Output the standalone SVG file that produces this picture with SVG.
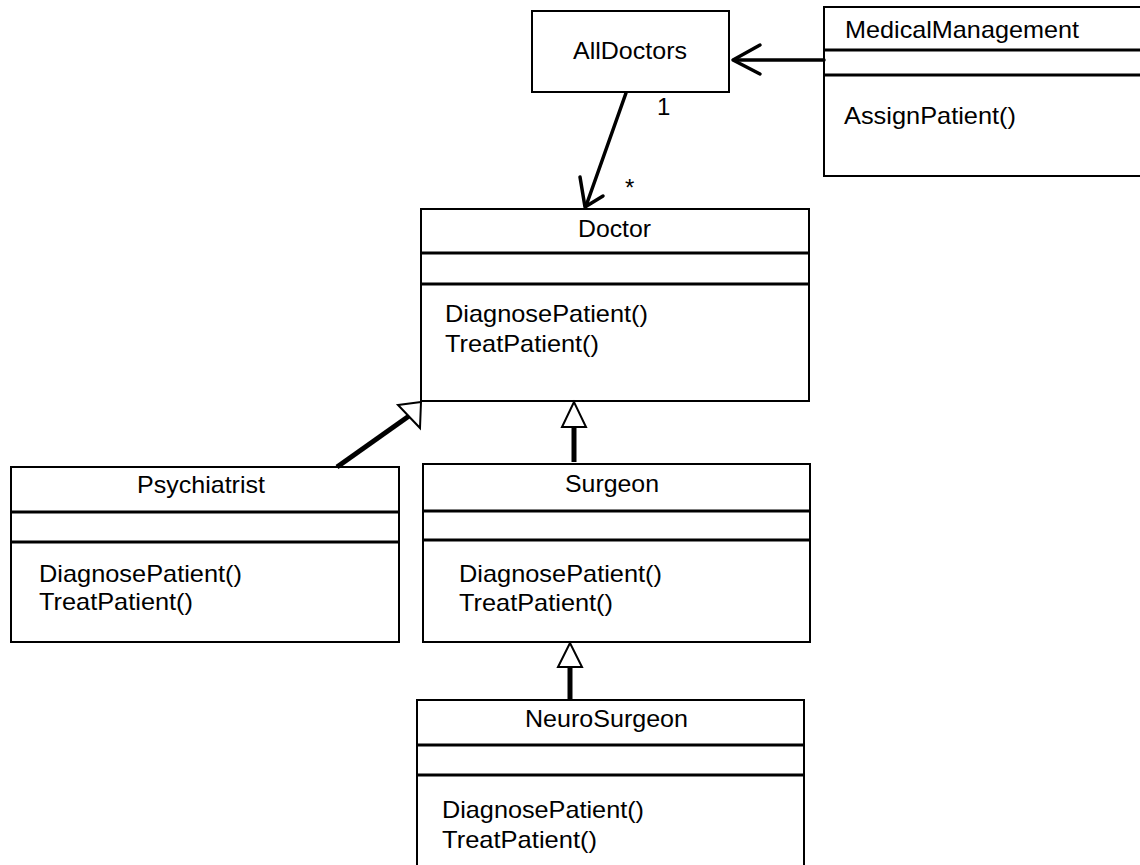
<svg xmlns="http://www.w3.org/2000/svg" width="1140" height="865" viewBox="0 0 1140 865">
<style>
.box{fill:#fff;stroke:#000;stroke-width:2}
.div{stroke:#000;stroke-width:3}
.t{font-family:"Liberation Sans",Arial,sans-serif;font-size:24px;fill:#000}
.c{stroke:#000;stroke-width:3.5;fill:none;stroke-linecap:round;stroke-linejoin:round}
.g{stroke:#000;stroke-width:5;fill:none}
.tri{fill:#fff;stroke:#000;stroke-width:2}
</style>
<rect width="1140" height="865" fill="#fff"/>

<g id="AllDoctors">
<rect class="box" x="532" y="11" width="197" height="81"/>
<text class="t" x="573" y="59" textLength="114" lengthAdjust="spacingAndGlyphs">AllDoctors</text>
</g>

<g id="MedicalManagement">
<rect class="box" x="824" y="7" width="330" height="169"/>
<line class="div" x1="824" y1="50" x2="1141" y2="50"/>
<line class="div" x1="824" y1="75" x2="1141" y2="75"/>
<text class="t" x="845" y="38" font-size="21" textLength="234" lengthAdjust="spacingAndGlyphs">MedicalManagement</text>
<text class="t" x="844" y="124" textLength="172" lengthAdjust="spacingAndGlyphs">AssignPatient()</text>
</g>

<g id="Doctor">
<rect class="box" x="421" y="209" width="388" height="192"/>
<line class="div" x1="421" y1="253" x2="809" y2="253"/>
<line class="div" x1="421" y1="284" x2="809" y2="284"/>
<text class="t" x="578" y="237" textLength="73" lengthAdjust="spacingAndGlyphs">Doctor</text>
<text class="t" x="445" y="322" textLength="203" lengthAdjust="spacingAndGlyphs">DiagnosePatient()</text>
<text class="t" x="445" y="352" textLength="154" lengthAdjust="spacingAndGlyphs">TreatPatient()</text>
</g>

<g id="Psychiatrist">
<rect class="box" x="11" y="467" width="388" height="175"/>
<line class="div" x1="11" y1="512" x2="399" y2="512"/>
<line class="div" x1="11" y1="542" x2="399" y2="542"/>
<text class="t" x="137" y="493" textLength="128" lengthAdjust="spacingAndGlyphs">Psychiatrist</text>
<text class="t" x="39" y="582" textLength="203" lengthAdjust="spacingAndGlyphs">DiagnosePatient()</text>
<text class="t" x="39" y="610" textLength="154" lengthAdjust="spacingAndGlyphs">TreatPatient()</text>
</g>

<g id="Surgeon">
<rect class="box" x="423" y="464" width="387" height="178"/>
<line class="div" x1="423" y1="511" x2="810" y2="511"/>
<line class="div" x1="423" y1="540" x2="810" y2="540"/>
<text class="t" x="565" y="492" textLength="94" lengthAdjust="spacingAndGlyphs">Surgeon</text>
<text class="t" x="459" y="582" textLength="203" lengthAdjust="spacingAndGlyphs">DiagnosePatient()</text>
<text class="t" x="459" y="611" textLength="154" lengthAdjust="spacingAndGlyphs">TreatPatient()</text>
</g>

<g id="NeuroSurgeon">
<rect class="box" x="417" y="700" width="387" height="190"/>
<line class="div" x1="417" y1="745" x2="804" y2="745"/>
<line class="div" x1="417" y1="775" x2="804" y2="775"/>
<text class="t" x="525" y="727" textLength="163" lengthAdjust="spacingAndGlyphs">NeuroSurgeon</text>
<text class="t" x="442" y="818" textLength="202" lengthAdjust="spacingAndGlyphs">DiagnosePatient()</text>
<text class="t" x="442" y="848" textLength="155" lengthAdjust="spacingAndGlyphs">TreatPatient()</text>
</g>

<g id="connectors">
<line class="c" x1="824" y1="60" x2="734" y2="60"/>
<polyline class="c" points="760,45 733,60 760,74"/>

<line class="c" x1="626" y1="93" x2="586" y2="206"/>
<polyline class="c" points="580,177 585,207 603,196"/>
<text class="t" x="657" y="115" font-size="15">1</text>
<text class="t" x="625" y="196" font-size="30">*</text>

<line class="g" x1="337" y1="467" x2="409" y2="416"/>
<polygon class="tri" points="421,402 398,405 420,428"/>

<line class="g" x1="574" y1="427" x2="574" y2="462"/>
<polygon class="tri" points="574,402 562,427 586,427"/>

<line class="g" x1="570" y1="667" x2="570" y2="700"/>
<polygon class="tri" points="570,643 558,667 582,667"/>
</g>
</svg>
